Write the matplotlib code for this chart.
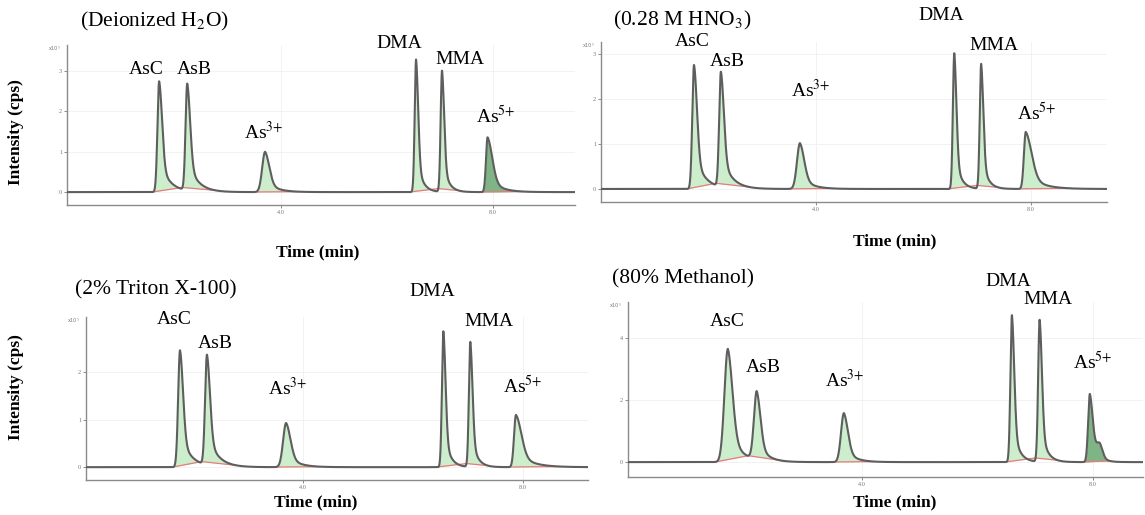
import numpy as np
import matplotlib
matplotlib.use("Agg")
import matplotlib.pyplot as plt

plt.rcParams['font.family'] = ['Liberation Serif', 'DejaVu Serif']
plt.rcParams['mathtext.fontset'] = 'stix'

# ---------------- data ----------------
panel_titles = ['(Deionized H$_2$O)', '(0.28 M HNO$_3$)', '(2% Triton X-100)', '(80% Methanol)']
peak_names = ['AsC', 'AsB', 'As$^{3{+}}$', 'DMA', 'MMA', 'As$^{5{+}}$']

# retention times (min)
rt_water = [1.70, 2.23, 3.70, 6.55, 7.04, 7.90]
rt_hno3 = [1.73, 2.23, 3.70, 6.57, 7.07, 7.90]
rt_triton = [1.76, 2.25, 3.69, 6.55, 7.04, 7.87]
rt_meoh = [1.68, 2.18, 3.69, 6.60, 7.08, 7.95]

# peak heights (x10^5 cps)
h_water = [2.75, 2.65, 1.00, 3.29, 3.01, 1.36]
h_hno3 = [2.76, 2.56, 1.02, 3.02, 2.78, 1.27]
h_triton = [2.46, 2.32, 0.93, 2.86, 2.63, 1.10]
h_meoh = [3.65, 2.20, 1.58, 4.74, 4.58, 2.19]

# peak front width, back width and tail constant (min)
front_water = [0.032, 0.032, 0.055, 0.026, 0.026, 0.030]
back_water = [0.055, 0.055, 0.080, 0.040, 0.040, 0.090]
tail_water = [0.180, 0.180, 0.190, 0.100, 0.100, 0.200]
front_hno3 = [0.032, 0.032, 0.055, 0.026, 0.026, 0.035]
back_hno3 = [0.055, 0.055, 0.080, 0.040, 0.040, 0.110]
tail_hno3 = [0.180, 0.180, 0.190, 0.100, 0.100, 0.250]
front_triton = [0.034, 0.034, 0.055, 0.026, 0.026, 0.035]
back_triton = [0.055, 0.055, 0.080, 0.040, 0.040, 0.100]
tail_triton = [0.180, 0.180, 0.190, 0.100, 0.100, 0.250]
front_meoh = [0.060, 0.048, 0.050, 0.026, 0.026, 0.030]
back_meoh = [0.080, 0.065, 0.070, 0.040, 0.040, 0.050]
tail_meoh = [0.200, 0.150, 0.160, 0.100, 0.100, 0.100]

# shoulder on As5+ in methanol
shoulder_meoh_rt = [8.12]
shoulder_meoh_h = [0.50]

y_ticks = [[0, 1, 2, 3], [0, 1, 2, 3], [0, 1, 2], [0, 2, 4]]
x_ticks = [4.0, 8.0]
x_tick_labels = ['4.0', '8.0']

# ---------------- layout ----------------
W, H = 1145, 515
fig = plt.figure(figsize=(W / 100, H / 100), dpi=100)

panels = [
    dict(px=(67, 575, 45, 205), xlim=(-0.04, 9.55), ylim=(-0.32, 3.65),
         rt=rt_water, h=h_water, f=front_water, b=back_water, t=tail_water, dark=[5]),
    dict(px=(601, 1107, 42, 202), xlim=(0.0, 9.41), ylim=(-0.29, 3.27),
         rt=rt_hno3, h=h_hno3, f=front_hno3, b=back_hno3, t=tail_hno3, dark=[]),
    dict(px=(86, 588, 317, 480), xlim=(0.05, 9.18), ylim=(-0.27, 3.16),
         rt=rt_triton, h=h_triton, f=front_triton, b=back_triton, t=tail_triton, dark=[]),
    dict(px=(628, 1143, 302, 477), xlim=(-0.05, 8.87), ylim=(-0.48, 5.16),
         rt=rt_meoh, h=h_meoh, f=front_meoh, b=back_meoh, t=tail_meoh, dark=[5]),
]

title_pos = [(155, 21), (682, 20), (156, 290), (683, 279)]
label_pos = [
    [(146, 70), (194, 70), (264, 132), (399, 43), (460, 60), (496, 116)],
    [(692, 41), (727, 62), (811, 90), (941, 15), (994, 46), (1037, 113)],
    [(174, 320), (215, 344), (288, 388), (432, 292), (489, 322), (523, 386)],
    [(727, 321), (763, 368), (845, 380), (1008, 281), (1048, 299), (1093, 362)],
]
ylabel_pos = [(16, 132), (16, 387)]
xlabel_pos = [(318, 252), (895, 241), (316, 502), (895, 502)]

TAIL_FRAC = 0.3


def fx(x):
    return x / W


def fy(y):
    return 1 - y / H


def peak(t, t0, h, sl, sr, tau):
    dt = t - t0
    left = np.exp(-0.5 * (dt / sl) ** 2)
    dtp = np.clip(dt, 0, None)
    right = (1 - TAIL_FRAC) * np.exp(-0.5 * (dtp / sr) ** 2) + TAIL_FRAC * np.exp(-dtp / tau)
    return h * np.where(dt < 0, left, right)


line_c = '#5e5e5e'
light_g = '#cdeecd'
dark_g = '#7fb586'
red_c = '#e77b7b'

for k, p in enumerate(panels):
    l, r, tp, bt = p['px']
    ax = fig.add_axes([fx(l), fy(bt), (r - l) / W, (bt - tp) / H])
    ax.set_xlim(*p['xlim'])
    ax.set_ylim(*p['ylim'])
    t = np.linspace(p['xlim'][0], p['xlim'][1], 5000)
    comps = [peak(t, t0, hh, sl, sr, ta)
             for t0, hh, sl, sr, ta in zip(p['rt'], p['h'], p['f'], p['b'], p['t'])]
    if k == 3:
        for s0, sh in zip(shoulder_meoh_rt, shoulder_meoh_h):
            comps[5] = comps[5] + peak(t, s0, sh, 0.06, 0.05, 0.08)
    sig = np.sum(comps, axis=0)

    n = len(p['rt'])
    starts = [p['rt'][i] - 3.5 * p['f'][i] for i in range(n)]
    ends = [p['rt'][i] + 2.5 * p['b'][i] + 2.2 * p['t'][i] for i in range(n)]
    for i in range(n - 1):
        if p['rt'][i + 1] - p['rt'][i] < 0.6:
            e = starts[i + 1] + 0.02
            ends[i] = e
            starts[i + 1] = e
    for i in range(n):
        s, e = starts[i], ends[i]
        m = (t >= s) & (t <= e)
        ys, ye = np.interp(s, t, sig), np.interp(e, t, sig)
        base = ys + (ye - ys) * (t[m] - s) / (e - s)
        col = dark_g if i in p['dark'] else light_g
        ax.fill_between(t[m], base, sig[m], color=col, lw=0, zorder=1)
        ax.plot(t[m], base, color=red_c, lw=0.9, zorder=2)
    ax.plot(t, sig, color=line_c, lw=1.5, zorder=3)

    for sp in ['top', 'right']:
        ax.spines[sp].set_visible(False)
    for sp in ['left', 'bottom']:
        ax.spines[sp].set_color('#8a8a8a')
        ax.spines[sp].set_linewidth(1.0)
    ax.set_yticks(y_ticks[k])
    ax.set_yticklabels([str(v) for v in y_ticks[k]])
    ax.set_xticks(x_ticks)
    ax.set_xticklabels(x_tick_labels)
    ax.tick_params(labelsize=4.5, colors='#777777', length=2, width=0.6, pad=1.5)
    ax.grid(True, color='#f0f0f0', lw=0.6, zorder=0)
    ax.set_axisbelow(True)
    ax.patch.set_alpha(0)
    ax.text(-0.012, 1.0, 'x10$^5$', transform=ax.transAxes, fontsize=3.5,
            color='#777777', ha='right', va='top', family='DejaVu Sans')

    tx, ty = title_pos[k]
    fig.text(fx(tx), fy(ty), panel_titles[k], fontsize=15.5, ha='center', va='center')
    for name, (lx, ly) in zip(peak_names, label_pos[k]):
        fig.text(fx(lx), fy(ly), name, fontsize=14, ha='center', va='center')
    xx, xy = xlabel_pos[k]
    fig.text(fx(xx), fy(xy), 'Time (min)', fontsize=12.5, fontweight='bold', ha='center', va='center')

for (yx, yy) in ylabel_pos:
    fig.text(fx(yx), fy(yy), 'Intensity (cps)', fontsize=12.5, fontweight='bold',
             rotation=90, ha='center', va='center')

fig.savefig('out.png', dpi=100, facecolor='white')
